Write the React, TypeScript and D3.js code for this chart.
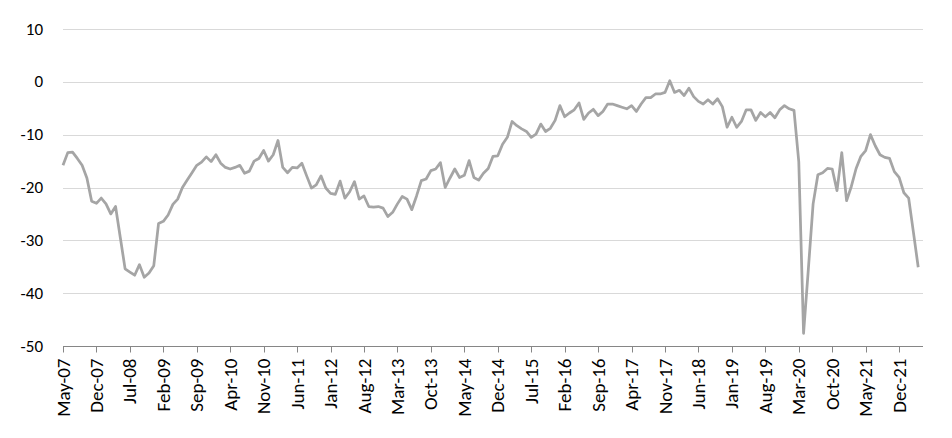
import { useEffect, useRef } from "react";
import * as d3 from "d3";

// Monthly series, May-07 .. Apr-22
const startYear = 2007;
const startMonth = 4; // May (0-based)
const values = [
  -15.8, -13.4, -13.3, -14.5, -15.8, -18.2, -22.6, -23.0, -22.0, -23.1,
  -25.0, -23.6, -29.5, -35.4, -36.0, -36.6, -34.6, -37.0, -36.2, -34.8,
  -26.8, -26.4, -25.2, -23.2, -22.2, -20.0, -18.6, -17.2, -15.8, -15.2,
  -14.2, -15.1, -13.8, -15.4, -16.2, -16.5, -16.2, -15.8, -17.3, -16.9,
  -15.0, -14.5, -13.0, -15.0, -13.8, -11.1, -16.2, -17.2, -16.2, -16.3,
  -15.4, -17.8, -20.1, -19.5, -17.8, -20.1, -21.1, -21.3, -18.8, -22.0,
  -20.8, -18.9, -22.2, -21.6, -23.6, -23.7, -23.6, -23.9, -25.5, -24.7,
  -23.1, -21.7, -22.2, -24.2, -21.6, -18.7, -18.4, -16.8, -16.5, -15.3,
  -20.0, -18.2, -16.5, -18.1, -17.7, -14.9, -18.1, -18.6, -17.3, -16.4,
  -14.1, -14.0, -11.8, -10.5, -7.5, -8.3, -8.9, -9.4, -10.5, -9.9,
  -8.0, -9.4, -8.8, -7.3, -4.5, -6.6, -5.9, -5.3, -4.0, -7.1,
  -5.9, -5.2, -6.4, -5.6, -4.2, -4.2, -4.5, -4.8, -5.1, -4.5,
  -5.6, -4.2, -3.0, -3.0, -2.3, -2.3, -2.0, 0.2, -2.0, -1.6,
  -2.6, -1.2, -2.8, -3.7, -4.2, -3.4, -4.2, -3.2, -4.7, -8.6,
  -6.7, -8.6, -7.5, -5.3, -5.3, -7.3, -5.8, -6.6, -5.8, -6.8,
  -5.3, -4.5, -5.1, -5.4, -15.1, -47.6, -35.5, -23.1, -17.6, -17.2,
  -16.4, -16.5, -20.6, -13.4, -22.5, -19.8, -16.4, -14.1, -13.0, -10.0,
  -12.1, -13.8, -14.3, -14.5, -17.0, -18.1, -21.0, -22.0, -28.5, -35.1,
];
const yTicks = [10, 0, -10, -20, -30, -40, -50];
const tickEvery = 7; // months between category labels

const fmt = d3.timeFormat("%b-%y");
const dates = values.map((_, i) => new Date(startYear, startMonth + i, 1));

export default function App() {
  const svgRef = useRef<SVGSVGElement>(null);

  useEffect(() => {
    if (!svgRef.current) return;
    const svg = d3.select(svgRef.current);
    svg.selectAll("*").remove();

    const width = 952;
    const height = 438;
    const margin = { top: 29, right: 29, bottom: 92, left: 63 };

    const x = d3
      .scaleLinear()
      .domain([0, values.length])
      .range([margin.left, width - margin.right]);
    const y = d3
      .scaleLinear()
      .domain([-50, 10])
      .range([height - margin.bottom, margin.top]);

    svg.attr("width", width).attr("height", height);

    const font = "Carlito, Calibri, Lato, sans-serif";

    // Gridlines
    svg
      .append("g")
      .selectAll("line")
      .data(yTicks.filter((t) => t !== -50))
      .enter()
      .append("line")
      .attr("x1", margin.left)
      .attr("x2", width - margin.right)
      .attr("y1", (d) => Math.round(y(d)) + 0.5)
      .attr("y2", (d) => Math.round(y(d)) + 0.5)
      .attr("stroke", "#d9d9d9")
      .attr("stroke-width", 1);

    // Y labels
    svg
      .append("g")
      .selectAll("text")
      .data(yTicks)
      .enter()
      .append("text")
      .attr("x", 43)
      .attr("y", (d) => y(d))
      .attr("text-anchor", "end")
      .attr("dominant-baseline", "central")
      .attr("font-family", font)
      .attr("font-size", "17px")
      .attr("fill", "#000")
      .text((d) => String(d));

    // X axis baseline
    const base = Math.round(y(-50)) + 0.5;
    svg
      .append("line")
      .attr("x1", margin.left)
      .attr("x2", width - margin.right)
      .attr("y1", base)
      .attr("y2", base)
      .attr("stroke", "#868686")
      .attr("stroke-width", 1);

    const tickIdx = d3.range(0, values.length, tickEvery);
    const ticks = svg.append("g");
    ticks
      .selectAll("line")
      .data(tickIdx)
      .enter()
      .append("line")
      .attr("x1", (d) => Math.round(x(d)) + 0.5)
      .attr("x2", (d) => Math.round(x(d)) + 0.5)
      .attr("y1", base)
      .attr("y2", base + 6)
      .attr("stroke", "#868686");

    ticks
      .selectAll("text")
      .data(tickIdx)
      .enter()
      .append("text")
      .attr("transform", (d) => `translate(${x(d)},${base + 12}) rotate(-90)`)
      .attr("text-anchor", "end")
      .attr("dominant-baseline", "central")
      .attr("font-family", font)
      .attr("font-size", "19px")
      .attr("fill", "#000")
      .text((d) => fmt(dates[d]));

    // Series line
    const line = d3
      .line<number>()
      .x((_, i) => x(i))
      .y((d) => y(d));

    svg
      .append("path")
      .datum(values)
      .attr("d", line)
      .attr("fill", "none")
      .attr("stroke", "#a5a5a5")
      .attr("stroke-width", 2.75)
      .attr("stroke-linejoin", "round");
  }, []);

  return (
    <svg
      ref={svgRef}
      style={{ position: "absolute", left: 0, top: 0, background: "#fff" }}
    />
  );
}
